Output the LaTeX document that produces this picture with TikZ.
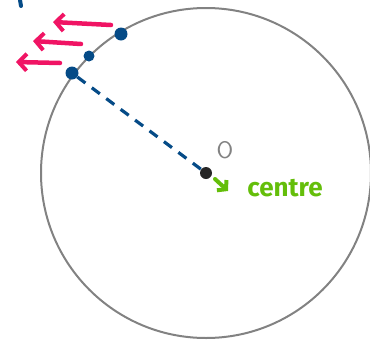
\documentclass[tikz,border=0pt]{standalone}
\usepackage{fontspec}
\setmainfont{Fira Sans}
\usetikzlibrary{arrows.meta}
\definecolor{dotblue}{RGB}{5,75,135}
\definecolor{pinkar}{RGB}{240,20,100}
\definecolor{greenlab}{RGB}{100,190,10}
\definecolor{circgray}{RGB}{130,130,130}
\tikzset{
  dotnode/.style={circle,fill=dotblue,inner sep=0pt,minimum size=13pt},
  pinkarrow/.style={draw=pinkar,line width=4.5pt,line cap=round,-{Straight Barb[length=8pt,width=17pt,line width=4pt]}},
}
\begin{document}
\begin{tikzpicture}[x=1pt,y=-1pt]
\useasboundingbox (0,0) rectangle (370,341);
\node[circle,draw=circgray,line width=2pt,minimum size=330pt,inner sep=0pt] (circ) at (206,173) {};
\node[dotnode] (d1) at (121,34) {};
\node[dotnode,minimum size=11pt] (d2) at (89,56) {};
\node[dotnode] (d3) at (72,73) {};
\node[dotnode,fill=black!85,minimum size=12pt] (c) at (206,173) {};
\draw[dotblue,line width=3.2pt,dashed,dash pattern=on 10pt off 8pt] (d3) -- (c);
\coordinate (a1s) at (111,25);
\coordinate (a1e) at (53,22);
\coordinate (a2s) at (81,44);
\coordinate (a2e) at (33,41);
\coordinate (a3s) at (60,63);
\coordinate (a3e) at (16,62);
\draw[pinkarrow] (a1s) -- (a1e);
\draw[pinkarrow] (a2s) -- (a2e);
\draw[pinkarrow] (a3s) -- (a3e);
\coordinate (t1) at (20,0);
\coordinate (t2) at (21,6);
\draw[dotblue,line width=4pt,line cap=round] (t1) -- (t2);
\node[text=circgray,font=\sffamily\fontsize{24}{24}\selectfont] (O) at (225,150) {O};
\node[text=greenlab,font=\bfseries\fontsize{26}{26}\selectfont] (lab) at (285,188) {centre};
\coordinate (g1) at (215,179);
\coordinate (g2) at (228,191);
\draw[greenlab,line width=4pt,line cap=round,-{Straight Barb[length=6pt,width=14pt,line width=4pt]}] (g1) -- (g2);
\end{tikzpicture}
\end{document}
